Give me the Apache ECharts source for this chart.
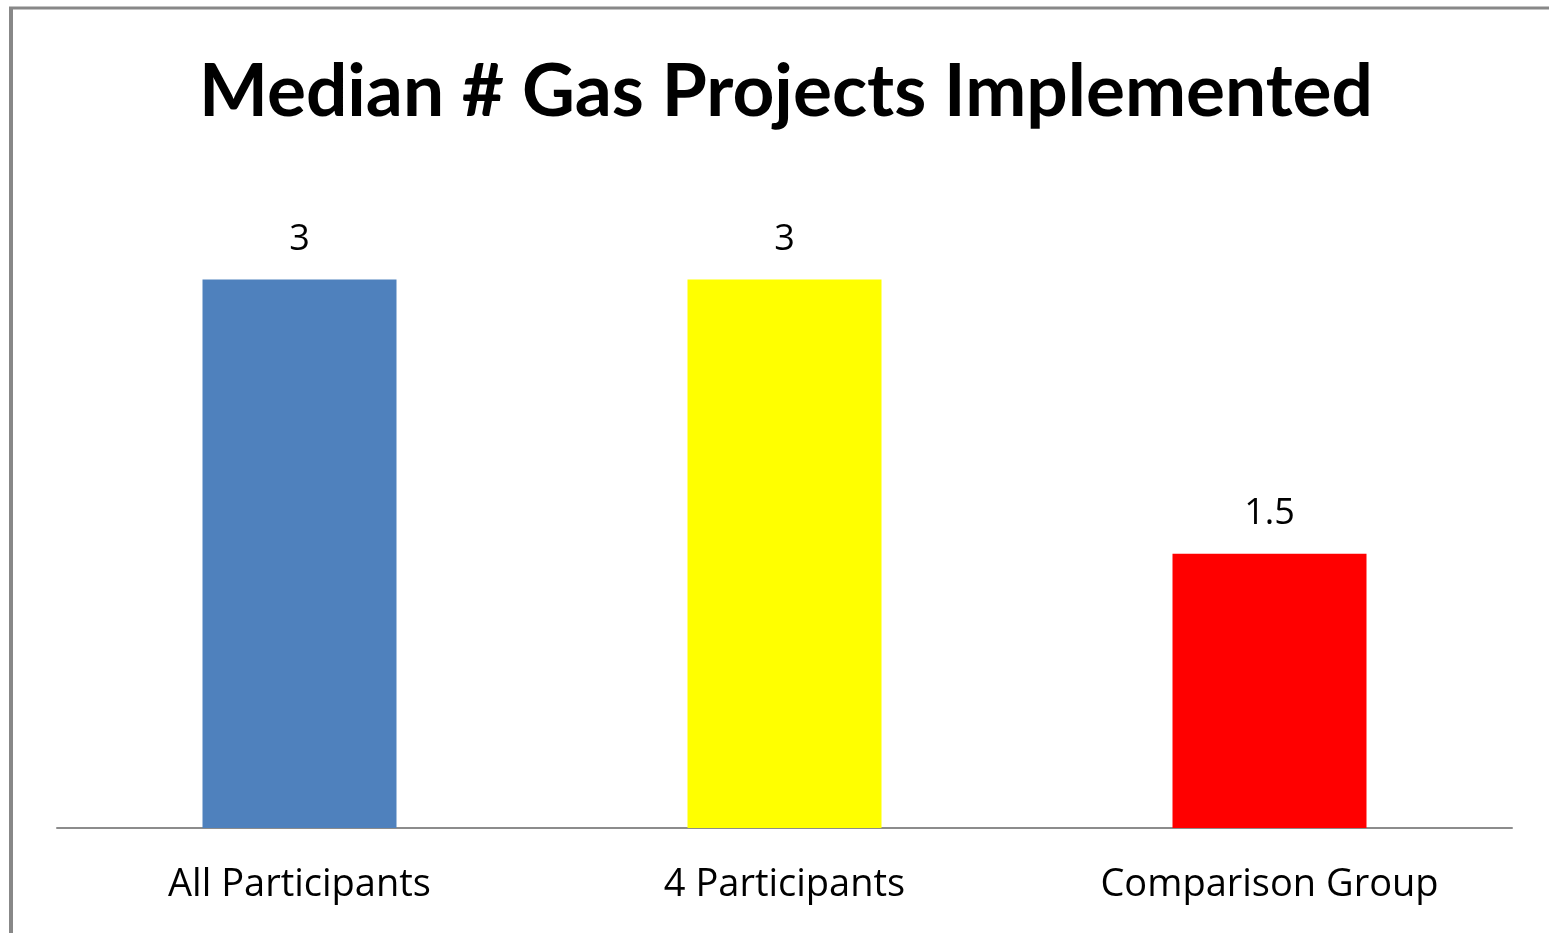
<!DOCTYPE html>
<html>
<head>
<meta charset="utf-8">
<script src="https://cdn.jsdelivr.net/npm/echarts@6/dist/echarts.min.js"></script>
<style>
  html, body { margin: 0; padding: 0; background: #fff; }
  #chart { width: 1549px; height: 933px; }
</style>
</head>
<body>
<div id="chart"></div>
<script>
var categories = ['All Participants', '4 Participants', 'Comparison Group'];
var medians = [3, 3, 1.5];
var barColors = ['#4f81bd', '#ffff00', '#ff0000'];

function chart() {
    var dom = document.getElementById('chart');
    var myChart = echarts.init(dom);
    var option = {
        backgroundColor: '#fff',
        title: {
            text: 'Median # Gas Projects Implemented',
            left: 781,
            textAlign: 'center',
            top: 51,
            textStyle: {
                fontFamily: 'Lato',
                fontWeight: 'bold',
                fontSize: 73,
                color: '#000'
            }
        },
        graphic: [
            { type: 'line', shape: { x1: 11, y1: 8, x2: 11, y2: 933 }, style: { stroke: '#888', lineWidth: 4 } },
            { type: 'line', shape: { x1: 9, y1: 8, x2: 1549, y2: 8 }, style: { stroke: '#888', lineWidth: 3 } }
        ],
        grid: { left: 57, right: 37, top: 188, bottom: 105 },
        xAxis: {
            type: 'category',
            data: categories,
            axisLine: { lineStyle: { color: '#8c8c8c', width: 2 } },
            axisTick: { show: false },
            axisLabel: {
                fontFamily: 'Open Sans',
                fontSize: 38,
                color: '#000',
                margin: 38
            }
        },
        yAxis: {
            type: 'value',
            min: 0,
            max: 3.5,
            show: false,
            splitLine: { show: false }
        },
        series: [{
            type: 'bar',
            barWidth: '40%',
            data: medians.map(function (v, i) {
                return { value: v, itemStyle: { color: barColors[i] } };
            }),
            label: {
                show: true,
                position: 'top',
                distance: 22,
                fontFamily: 'Open Sans',
                fontSize: 36,
                color: '#000'
            }
        }]
    };
    myChart.setOption(option, true);
}
chart();
</script>
</body>
</html>
